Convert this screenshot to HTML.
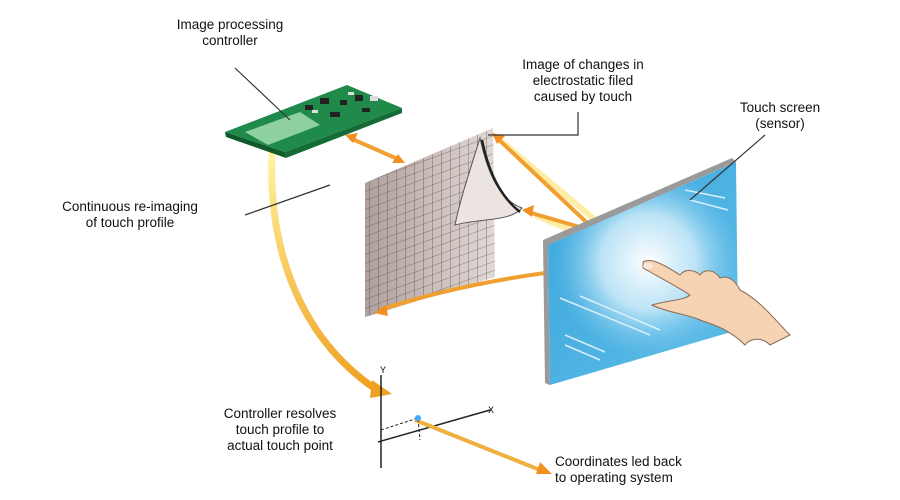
<!DOCTYPE html>
<html><head><meta charset="utf-8"><style>
body{margin:0;background:#fff;width:900px;height:500px;overflow:hidden;font-family:"Liberation Sans",sans-serif}
.t{position:absolute;font-size:13.5px;line-height:16px;color:#111;text-align:center}
</style></head><body>
<svg width="900" height="500" style="position:absolute;left:0;top:0">
<defs>
<linearGradient id="scr" x1="0" y1="0" x2="1" y2="1"><stop offset="0" stop-color="#3aa6dc"/><stop offset="1" stop-color="#5fbde8"/></linearGradient>
<radialGradient id="glow" cx="648" cy="262" r="95" gradientUnits="userSpaceOnUse"><stop offset="0" stop-color="#fff"/><stop offset="0.5" stop-color="#d8f0fb" stop-opacity="0.8"/><stop offset="1" stop-color="#7cc9ef" stop-opacity="0"/></radialGradient>
<linearGradient id="mesh" x1="0" y1="0" x2="1" y2="0"><stop offset="0" stop-color="#b0a09c"/><stop offset="1" stop-color="#e2d9d6"/></linearGradient>
<linearGradient id="yl" x1="0" y1="0" x2="0" y2="1"><stop offset="0" stop-color="#fff4a0"/><stop offset="1" stop-color="#f0a020"/></linearGradient>
<pattern id="grid" width="9" height="9" patternUnits="userSpaceOnUse" patternTransform="skewY(-20)"><path d="M0 0H9M0 0V9" stroke="#4a403e" stroke-width="0.8" fill="none"/></pattern>
</defs>
<path d="M272 152 C268 250 300 340 380 392" stroke="url(#yl)" stroke-width="7" fill="none"/>
<polygon points="372,380 392,394 370,398" fill="#f0a020"/>
<polygon points="225,132 347,85 402,108 285,152" fill="#1f8a4a"/>
<polygon points="225,132 285,152 286,158 226,137" fill="#0f5a2a"/>
<polygon points="285,152 402,108 402,113 286,158" fill="#146b36"/>
<polygon points="245,132 300,112 320,125 268,145" fill="#8fd0a0"/>
<g fill="#222"><rect x="305" y="105" width="8" height="5"/><rect x="320" y="98" width="9" height="6"/><rect x="340" y="100" width="7" height="5"/><rect x="330" y="112" width="10" height="5"/><rect x="355" y="95" width="8" height="6"/><rect x="362" y="108" width="8" height="4"/></g>
<g fill="#ddd"><rect x="312" y="110" width="6" height="3"/><rect x="348" y="92" width="6" height="3"/><rect x="370" y="96" width="8" height="5"/></g>
<polygon points="365,183 493,128 495,277 365,317" fill="url(#mesh)"/>
<polygon points="365,183 493,128 495,277 365,317" fill="url(#grid)" opacity="0.8"/>
<path d="M480 138 C488 175 500 200 522 208 C510 222 480 218 455 225 C460 200 470 170 480 138 Z" fill="#ece4e1" stroke="#555" stroke-width="1"/>
<path d="M482 140 C490 180 505 200 520 212" stroke="#222" stroke-width="2.5" fill="none"/>
<path d="M500 140 L645 262 M535 215 L645 262" stroke="#ffe680" stroke-width="6" opacity="0.7"/>
<g stroke="#f0a030" stroke-width="4" fill="none">
<path d="M350 138 L400 160"/><path d="M497 138 L600 235"/><path d="M528 212 L590 230"/><path d="M380 310 C470 280 560 270 640 262"/>
</g>
<g fill="#f09020"><polygon points="345,135 358,133 353,143"/><polygon points="405,163 392,163 398,154"/><polygon points="492,133 505,136 497,144"/><polygon points="522,210 534,205 532,217"/><polygon points="374,313 386,305 388,316"/></g>
<polygon points="543,240 732,158 736,162 548,245 550,385 545,383" fill="#9a9a9a"/>
<polygon points="548,245 736,162 738,330 550,385" fill="url(#scr)"/>
<polygon points="548,245 736,162 738,330 550,385" fill="url(#glow)"/>
<g stroke="#d8effa" stroke-width="1.5"><path d="M560 298 L650 335"/><path d="M580 296 L660 330"/><path d="M565 335 L605 352"/><path d="M565 345 L600 360"/><path d="M685 190 L725 198"/><path d="M690 200 L728 210"/></g>
<path d="M643 262 C650 258 660 262 680 275 C685 268 695 270 700 275 C705 268 715 270 720 278 C728 275 735 280 740 290 C760 300 775 320 790 335 L770 345 C760 335 748 340 745 345 C730 330 715 325 700 320 C690 315 665 312 652 305 C670 300 685 300 690 295 C675 285 655 275 643 268 Z" fill="#f5d3b3" stroke="#8a6a55" stroke-width="1"/>
<ellipse cx="648" cy="266" rx="5" ry="3" fill="#fbe8d8"/>
<g stroke="#333" stroke-width="1.2" fill="none">
<path d="M235 68 L290 120"/><path d="M245 215 L330 185"/><path d="M488 135 L578 135 L578 112"/><path d="M765 135 L690 200"/>
</g>
<g stroke="#222" stroke-width="1.5"><path d="M381 375 V468"/><path d="M378 442 L490 410"/></g>
<path d="M415 420 L540 470" stroke="#f0b040" stroke-width="4"/>
<polygon points="540,462 552,474 536,474" fill="#f09020"/>
<path d="M381 430 L418 418 L420 440" stroke="#222" stroke-dasharray="3,2" fill="none"/>
<circle cx="418" cy="418" r="3" fill="#4af"/>
<text x="380" y="373" font-size="9" font-family="Liberation Sans">Y</text>
<text x="488" y="413" font-size="9" font-family="Liberation Sans">X</text>
</svg>
<div class="t" style="left:160px;top:17px;width:140px">Image processing<br>controller</div>
<div class="t" style="left:488px;top:57px;width:190px">Image of changes in<br>electrostatic filed<br>caused by touch</div>
<div class="t" style="left:720px;top:100px;width:120px">Touch screen<br>(sensor)</div>
<div class="t" style="left:20px;top:199px;width:220px">Continuous re-imaging<br>of touch profile</div>
<div class="t" style="left:180px;top:406px;width:200px">Controller resolves<br>touch profile to<br>actual touch point</div>
<div class="t" style="left:555px;top:454px;width:200px;text-align:left">Coordinates led back<br>to operating system</div>
</body></html>
